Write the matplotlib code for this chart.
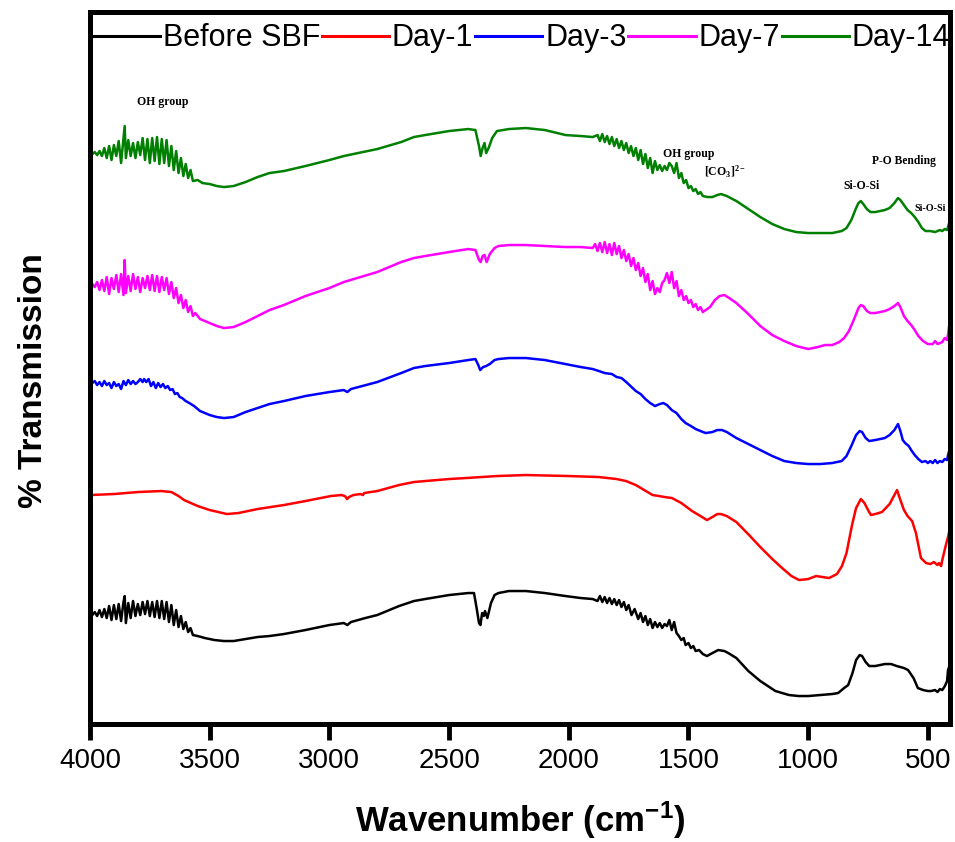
import numpy as np
import matplotlib
matplotlib.use('Agg')
import matplotlib.pyplot as plt

# FTIR spectra (wavenumber cm-1, transmission in arbitrary stacked units)
before_sbf = [(4000,108),(3990,107),(3980,110),(3970,106),(3960,112),(3950,105),(3940,113),(3930,104),
    (3920,116),(3910,102),(3900,117),(3890,103),(3880,118),(3870,101),(3860,120),(3855,126),(3850,99),
    (3840,119),(3830,104),(3820,121),(3810,106),(3800,118),(3790,107),(3780,120),(3770,108),(3760,121),
    (3750,106),(3740,120),(3730,105),(3720,121),(3710,104),(3700,121),(3690,103),(3680,120),(3670,100),
    (3660,117),(3650,97),(3640,112),(3630,95),(3620,106),(3610,93),(3600,100),(3590,90),(3580,94),
    (3570,87),(3550,86),(3520,84),(3480,82),(3440,81),(3400,81),(3350,83),(3300,85),(3250,86),(3190,88),
    (3100,92),(3000,97),(2940,99),(2925,97),(2910,100),(2850,104),(2800,107),(2709,116),(2647,121),
    (2600,123),(2500,127),(2420,129),(2396,129),(2385,114),(2375,99),(2369,97),(2362,109),(2355,106),
    (2350,111),(2340,104),(2325,119),(2310,127),(2294,129),(2250,131),(2179,131),(2100,129),(2014,126),
    (1950,124),(1900,123),(1880,121),(1870,126),(1860,120),(1850,125),(1840,119),(1830,124),(1820,118),
    (1810,123),(1800,117),(1790,122),(1780,115),(1770,120),(1760,112),(1750,117),(1738,107),(1725,113),
    (1710,103),(1700,109),(1690,100),(1680,106),(1670,97),(1660,103),(1650,94),(1640,100),(1630,95),
    (1620,99),(1610,94),(1600,98),(1590,96),(1580,102),(1570,92),(1560,100),(1550,89),(1540,86),
    (1530,82),(1520,84),(1512,77),(1500,79),(1490,74),(1480,76),(1470,71),(1456,72),(1440,68),(1423,66),
    (1400,69),(1376,72),(1350,71),(1334,69),(1300,64),(1250,51),(1200,41),(1137,31),(1080,27),(1040,26),
    (1000,26),(950,27),(900,28),(875,29),(850,34),(833,37),(815,49),(800,62),(785,67),(775,66),(760,60),
    (745,56),(720,56),(700,57),(680,58),(654,58),(630,56),(600,54),(583,52),(560,44),(542,34),(520,32),
    (500,31),(487,31),(470,32),(460,30),(450,33),(440,32),(429,36),(420,41),(416,52),(410,56)]

day_1 = [(4000,227),(3900,228),(3800,230),(3703,231),(3660,230),(3630,226),(3607,222),(3550,216),
    (3500,212),(3428,208),(3380,209),(3300,213),(3190,217),(3100,221),(2994,226),(2950,227),(2935,226),
    (2926,223),(2918,225),(2900,227),(2870,228),(2860,227),(2855,229),(2800,231),(2709,237),(2647,240),
    (2600,241),(2500,243),(2430,244),(2300,246),(2179,247),(2000,246),(1874,245),(1800,243),(1761,241),
    (1720,237),(1678,231),(1650,227),(1623,226),(1600,225),(1569,224),(1530,219),(1485,211),(1450,206),
    (1423,202),(1400,205),(1380,208),(1365,208),(1340,206),(1300,200),(1247,187),(1200,175),(1150,163),
    (1109,154),(1070,146),(1038,142),(1000,143),(967,146),(940,145),(913,144),(880,148),(859,156),
    (840,169),(817,197),(800,214),(780,223),(765,219),(750,212),(738,207),(720,208),(692,210),(660,218),
    (640,227),(629,232),(615,222),(600,212),(585,206),(566,201),(550,189),(529,164),(508,159),(490,158),
    (475,160),(460,157),(454,159),(445,156),(440,162),(425,177),(415,186),(408,194)]

day_3 = [(4000,340),(3990,339),(3980,341),(3970,337),(3960,340),(3950,336),(3940,341),(3930,337),
    (3920,339),(3910,334),(3900,340),(3890,336),(3880,338),(3870,333),(3860,341),(3850,337),(3840,342),
    (3830,338),(3820,341),(3810,338),(3800,340),(3790,343),(3780,340),(3774,343),(3765,340),(3755,343),
    (3745,336),(3735,340),(3725,334),(3715,339),(3705,335),(3695,338),(3685,334),(3675,336),(3665,332),
    (3655,333),(3645,328),(3635,329),(3625,325),(3615,324),(3600,321),(3585,319),(3565,316),(3540,311),
    (3500,307),(3470,305),(3440,304),(3400,305),(3350,310),(3300,314),(3250,318),(3190,321),(3100,326),
    (3000,330),(2940,332),(2925,330),(2910,333),(2800,340),(2700,349),(2647,354),(2600,356),(2500,359),
    (2420,362),(2390,363),(2378,357),(2370,352),(2358,355),(2345,356),(2330,358),(2310,362),(2294,363),
    (2250,364),(2179,364),(2100,362),(2014,358),(1950,355),(1900,353),(1874,351),(1850,349),(1820,348),
    (1800,345),(1780,344),(1760,340),(1738,335),(1720,331),(1700,328),(1680,323),(1660,319),(1640,316),
    (1620,318),(1605,319),(1590,317),(1570,312),(1550,309),(1530,303),(1512,299),(1490,296),(1470,293),
    (1450,291),(1428,289),(1400,290),(1380,292),(1360,292),(1340,290),(1300,284),(1250,278),(1200,272),
    (1150,266),(1100,261),(1050,259),(1000,258),(950,258),(900,259),(860,261),(840,266),(820,276),
    (800,287),(785,291),(775,290),(760,284),(745,281),(720,282),(700,283),(680,284),(660,287),(640,292),
    (625,298),(615,291),(605,282),(595,279),(580,276),(570,272),(555,267),(540,263),(525,260),(510,261),
    (500,259),(490,261),(480,259),(470,262),(460,259),(450,261),(440,260),(430,263),(420,262),(415,268),
    (410,272)]

day_7 = [(4000,437),(3990,438),(3980,435),(3970,440),(3960,432),(3950,442),(3940,431),(3930,445),
    (3920,428),(3910,444),(3900,433),(3890,447),(3880,430),(3870,448),(3860,427),(3855,462),(3850,429),
    (3840,446),(3830,431),(3820,448),(3810,433),(3800,445),(3790,430),(3780,444),(3770,434),(3760,446),
    (3750,432),(3740,447),(3730,431),(3720,446),(3710,430),(3700,445),(3690,432),(3680,444),(3670,428),
    (3660,440),(3650,424),(3640,434),(3630,419),(3620,427),(3610,414),(3600,422),(3590,410),(3580,416),
    (3570,406),(3560,409),(3540,403),(3500,399),(3470,396),(3440,394),(3400,395),(3350,400),(3300,406),
    (3250,412),(3190,417),(3100,426),(3000,434),(2940,440),(2800,450),(2700,460),(2647,464),(2600,466),
    (2500,470),(2420,473),(2390,472),(2375,462),(2368,460),(2360,466),(2352,467),(2343,460),(2330,468),
    (2310,474),(2294,476),(2250,477),(2179,477),(2100,476),(2014,475),(1950,475),(1900,474),(1890,478),
    (1880,471),(1870,479),(1860,470),(1850,480),(1840,469),(1830,478),(1820,467),(1810,479),(1800,468),
    (1790,476),(1780,464),(1770,472),(1760,461),(1750,468),(1740,456),(1730,464),(1720,452),(1710,459),
    (1700,446),(1690,454),(1680,440),(1670,448),(1660,432),(1650,441),(1640,428),(1630,434),(1620,430),
    (1610,439),(1600,442),(1590,449),(1580,439),(1570,450),(1560,434),(1550,441),(1540,426),(1530,432),
    (1520,422),(1510,426),(1500,419),(1490,422),(1480,415),(1470,418),(1460,412),(1450,415),(1440,410),
    (1428,412),(1410,415),(1390,422),(1370,426),(1350,427),(1330,424),(1300,419),(1250,408),(1200,396),
    (1150,387),(1100,381),(1050,376),(1000,373),(960,375),(930,377),(900,377),(870,380),(850,384),
    (830,391),(810,402),(790,414),(780,417),(770,416),(755,411),(740,409),(720,409),(700,410),(680,411),
    (660,413),(640,416),(625,419),(615,415),(600,406),(585,401),(570,397),(555,392),(540,386),(520,381),
    (500,378),(480,378),(470,381),(460,378),(450,379),(440,380),(430,384),(420,382),(415,389),(410,399)]

day_14 = [(4000,569),(3990,568),(3980,570),(3970,567),(3960,571),(3950,566),(3940,574),(3930,564),
    (3920,576),(3910,562),(3900,577),(3890,566),(3880,581),(3870,559),(3860,584),(3855,596),(3850,564),
    (3840,582),(3830,566),(3820,579),(3810,564),(3800,580),(3790,567),(3780,584),(3770,562),(3760,583),
    (3750,559),(3740,584),(3730,561),(3720,585),(3710,558),(3700,583),(3690,559),(3680,582),(3670,556),
    (3660,576),(3650,552),(3640,571),(3630,549),(3620,564),(3610,546),(3600,558),(3590,544),(3580,552),
    (3570,541),(3550,542),(3530,539),(3500,538),(3470,536),(3440,535),(3400,536),(3350,540),(3300,545),
    (3250,549),(3190,551),(3100,556),(3000,562),(2940,566),(2920,567),(2900,568),(2800,573),(2700,580),
    (2647,585),(2600,587),(2500,591),(2420,593),(2390,592),(2375,576),(2368,566),(2360,574),(2352,579),
    (2345,569),(2335,574),(2320,584),(2300,591),(2250,593),(2179,594),(2100,592),(2014,587),(1950,586),
    (1900,585),(1880,587),(1870,581),(1860,588),(1850,580),(1840,586),(1830,578),(1820,585),(1810,576),
    (1800,583),(1790,574),(1780,581),(1770,572),(1760,579),(1750,569),(1740,576),(1730,566),(1720,574),
    (1710,562),(1700,572),(1690,558),(1680,568),(1670,554),(1660,564),(1650,549),(1640,561),(1630,552),
    (1620,557),(1610,551),(1600,556),(1590,552),(1580,559),(1570,556),(1560,549),(1550,559),(1540,544),
    (1530,549),(1520,539),(1510,542),(1500,534),(1490,536),(1480,531),(1470,533),(1460,528),(1450,530),
    (1440,526),(1420,525),(1400,525),(1380,527),(1364,528),(1340,526),(1300,521),(1250,513),(1200,505),
    (1150,498),(1100,493),(1050,490),(1000,489),(950,489),(900,489),(860,491),(840,494),(820,502),
    (800,514),(790,519),(780,521),(770,518),(755,513),(740,510),(720,510),(700,511),(680,512),(660,514),
    (640,519),(625,524),(615,522),(600,517),(585,512),(570,509),(555,505),(540,500),(525,494),(510,491),
    (490,491),(470,490),(450,492),(440,491),(430,493),(420,492),(415,496),(410,500)]

series = [before_sbf, day_1, day_3, day_7, day_14]
labels = ['Before SBF', 'Day-1', 'Day-3', 'Day-7', 'Day-14']
colors = ['black', '#ff0000', '#0000ff', '#ff00ff', '#008000']

# band assignments: (text, wavenumber, level, size, ha)
bands = [('OH group', 3695, 620, 8.5, 'center'),
         ('OH group', 1498, 568, 8.5, 'center'),
         ('[CO$_3$]$^{2-}$', 1435, 550, 8.5, 'left'),
         ('P-O Bending', 600, 561, 8.3, 'center'),
         ('Si-O-Si', 779, 536, 8.5, 'center'),
         ('Si-O-Si', 491, 514, 7.3, 'center')]

plt.rcParams['font.family'] = ['Liberation Sans', 'DejaVu Sans']
plt.rcParams['mathtext.default'] = 'regular'

fig = plt.figure(figsize=(9.55, 8.42), dpi=100)
ax = fig.add_axes([0.0942, 0.1401, 0.9005, 0.8456])

for data, lab, col in zip(series, labels, colors):
    arr = np.array(data)
    ax.plot(arr[:, 0], arr[:, 1], color=col, lw=1.8, label=lab)

for txt, wn, lvl, fs, ha in bands:
    ax.text(wn, lvl, txt, fontsize=fs, fontweight='bold', ha=ha, va='center',
            family=['Liberation Serif', 'DejaVu Serif'])

ax.set_xlim(4000, 408)
ax.set_ylim(-2, 710)
ax.set_xticks([4000, 3500, 3000, 2500, 2000, 1500, 1000, 500])
ax.set_yticks([])
for s in ax.spines.values():
    s.set_linewidth(3.6)
ax.tick_params(axis='x', direction='out', length=11.5, width=3.5, pad=6, labelsize=20)

ax.set_xlabel('Wavenumber (cm$^{-1}$)', fontsize=25, fontweight='bold')
ax.xaxis.set_label_coords(0.5, -0.106)
ax.set_ylabel('% Transmission', fontsize=24, fontweight='bold')
ax.yaxis.label.set_va('center')
ax.yaxis.set_label_coords(-0.066, 0.483)

leg = ax.legend(ncol=5, loc='center left', bbox_to_anchor=(0.003, 0.963), frameon=False,
                fontsize=22, handlelength=2.2, handletextpad=0.1, columnspacing=0.05,
                borderaxespad=0, borderpad=0)
for h in leg.get_lines():
    h.set_linewidth(2.2)

fig.savefig('out.png', dpi=100)
